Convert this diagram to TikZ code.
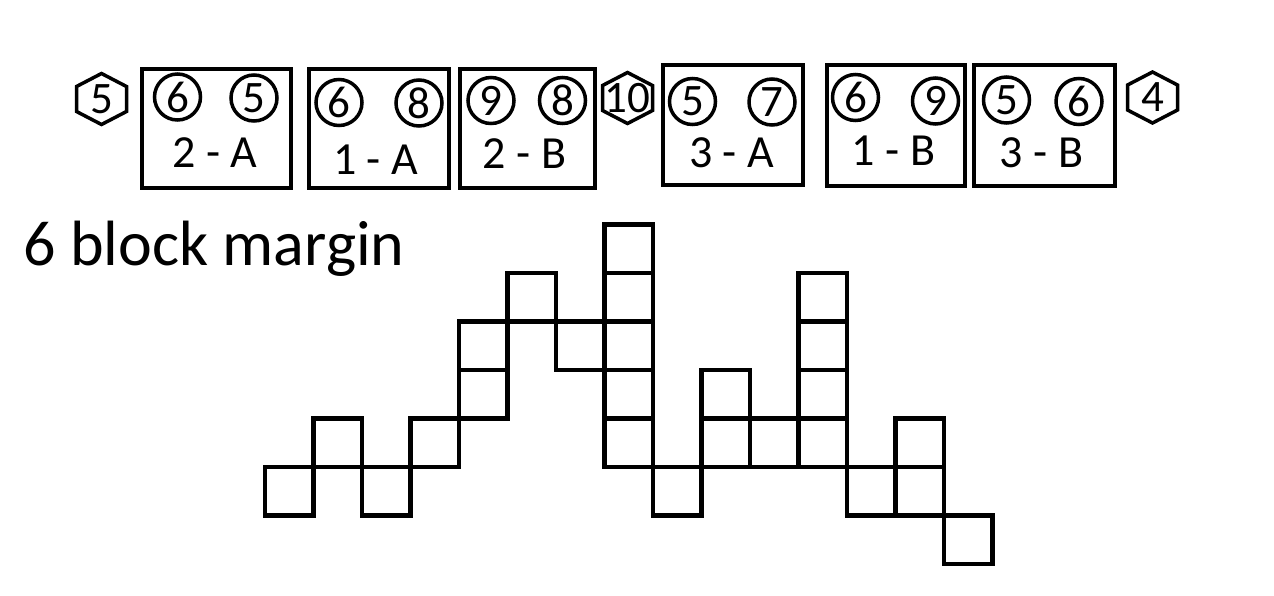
\documentclass[tikz,border=0pt]{standalone}
\usepackage{fontspec}
\setmainfont{Carlito}
\begin{document}
\begin{tikzpicture}[x=1pt,y=-1pt,
  card/.style={draw,line width=4pt,inner sep=0pt},
  num/.style={draw,circle,line width=3.5pt,minimum size=46pt,inner sep=0pt,font=\fontsize{45}{45}\selectfont},
  lab/.style={inner sep=0pt,font=\fontsize{46}{46}\selectfont},
  hexnum/.style={inner sep=0pt,font=\fontsize{45}{45}\selectfont},
  hexline/.style={line width=3.5pt,line join=miter},
  cellbox/.style={line width=4.5pt,line cap=rect}]
\useasboundingbox (0,0) rectangle (1274,595);
\fill[white] (0,0) rectangle (1274,595);
% cards
\node[card,minimum width=149pt,minimum height=119pt] (c1) at (216.5,128.5) {};
\node[card,minimum width=140pt,minimum height=119pt] (c2) at (379,128.5) {};
\node[card,minimum width=135pt,minimum height=119pt] (c3) at (527.5,128.5) {};
\node[card,minimum width=140pt,minimum height=120pt] (c4) at (733,125) {};
\node[card,minimum width=138pt,minimum height=121pt] (c5) at (896,125.5) {};
\node[card,minimum width=141pt,minimum height=121pt] (c6) at (1044.5,125.5) {};
% circles
\node[num] (n1a) at (177.5,97) {6};
\node[num] (n1b) at (254,98) {5};
\node[num] (n2a) at (339,102.5) {6};
\node[num] (n2b) at (419,103) {8};
\node[num] (n3a) at (491,100.5) {9};
\node[num] (n3b) at (562.5,100.5) {8};
\node[num] (n4a) at (692.5,101.5) {5};
\node[num] (n4b) at (772,102) {7};
\node[num] (n5a) at (855.5,97.5) {6};
\node[num] (n5b) at (935.5,101) {9};
\node[num] (n6a) at (1006.5,100) {5};
\node[num] (n6b) at (1079,101.5) {6};
% labels
\node[lab] (l1) at (215,152.5) {2 - A};
\node[lab] (l2) at (375.5,160) {1 - A};
\node[lab] (l3) at (524.5,154) {2 - B};
\node[lab] (l4) at (731.5,152.5) {3 - A};
\node[lab] (l5) at (893.5,151) {1 - B};
\node[lab] (l6) at (1041.5,153) {3 - B};
% hexagons
\foreach \h/\x/\y/\t in {h1/101.5/99/5, h2/627.5/98/10, h3/1152.5/97.5/4}{
  \node[hexnum] (\h) at (\x,\y) {\t};
  \draw[hexline] ([shift={(0,-25.5)}]\h.center) -- ([shift={(25,-12.5)}]\h.center)
    -- ([shift={(25,12.5)}]\h.center) -- ([shift={(0,25.5)}]\h.center)
    -- ([shift={(-25,12.5)}]\h.center) -- ([shift={(-25,-12.5)}]\h.center) -- cycle;
}
% title
\node[anchor=base west,inner sep=0pt,font=\fontsize{64}{64}\selectfont] (title) at (23,265) {6 block margin};
% grid cells
\foreach \c/\r in {0/0,1/1,2/0,3/1,4/2,4/3,5/4,6/3,7/1,7/2,7/3,7/4,7/5,8/0,9/1,9/2,10/1,11/1,11/2,11/3,11/4,12/0,13/0,13/1,14/-1}{
  \draw[cellbox] ({265+48.5*\c},{467-48.5*\r}) rectangle ++(48.5,48.5);
}
\end{tikzpicture}
\end{document}
